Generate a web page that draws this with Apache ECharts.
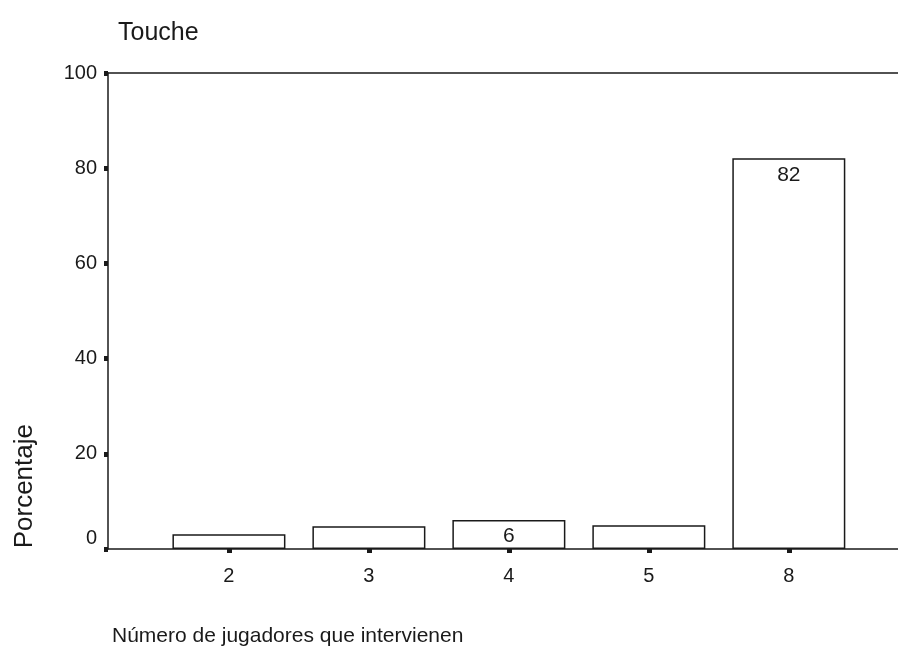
<!DOCTYPE html>
<html>
<head>
<meta charset="utf-8">
<script src="https://cdn.jsdelivr.net/npm/echarts@6/dist/echarts.min.js"></script>
<style>
html, body { margin: 0; padding: 0; background: #fff; }
#chart { width: 898px; height: 653px; }
</style>
</head>
<body>
<div id="chart"></div>
<script>
// categories on the x axis and percentages
const categories = ['2', '3', '4', '5', '8'];
const percents = [3.1, 4.8, 6.1, 5.0, 82.1];
const labelTexts = ['', '', '6', '', '82'];
const yTicks = [0, 20, 40, 60, 80, 100];

const ink = '#1a1a1a';
const font = 'Liberation Sans, Arial, sans-serif';

let myChart = echarts.init(document.getElementById('chart'));
let option = {
    backgroundColor: '#fff',
    animation: false,
    title: {
        text: 'Touche',
        left: 113,
        top: 16,
        textStyle: { fontFamily: font, fontWeight: 'normal', fontSize: 25, color: ink }
    },
    grid: { left: 108, right: 0, top: 73, bottom: 104 },
    xAxis: [{
        type: 'value',
        min: -0.864,
        max: 4.78,
        splitLine: { show: false },
        axisLine: { lineStyle: { color: ink, width: 1.5 } },
        axisTick: {
            customValues: [0, 1, 2, 3, 4],
            length: 4,
            lineStyle: { color: ink, width: 5 }
        },
        axisLabel: {
            customValues: [0, 1, 2, 3, 4],
            margin: 17,
            fontFamily: font,
            fontSize: 20,
            color: ink,
            formatter: function (v) { return categories[Math.round(v)]; }
        }
    }, {
        type: 'value',
        position: 'top',
        min: -0.864,
        max: 4.78,
        splitLine: { show: false },
        axisLine: { show: true, lineStyle: { color: ink, width: 1.5 } },
        axisTick: { show: false },
        axisLabel: { show: false }
    }],
    yAxis: {
        type: 'value',
        min: 0,
        max: 100,
        interval: 20,
        splitLine: { show: false },
        axisLine: { show: true, onZero: false, lineStyle: { color: ink, width: 1.5 } },
        axisTick: { length: 4, lineStyle: { color: ink, width: 5 } },
        axisLabel: {
            margin: 11,
            fontFamily: font,
            fontSize: 20,
            color: ink,
            formatter: function (v) {
                if (yTicks.indexOf(v) < 0) return '';
                return v === 0 ? '{low|0}' : String(v);
            },
            rich: {
                low: { fontFamily: font, fontSize: 20, color: ink, padding: [0, 0, 22, 0] }
            }
        }
    },
    graphic: [{
        type: 'text',
        left: 12,
        top: 424,
        style: {
            text: 'Porcentaje',
            font: '26px ' + font,
            fill: ink
        },
        rotation: Math.PI / 2,
        originX: 0,
        originY: 0
    }, {
        type: 'text',
        left: 112,
        top: 626,
        style: {
            text: 'Número de jugadores que intervienen',
            font: '21px ' + font,
            fill: ink
        }
    }],
    series: [{
        type: 'bar',
        xAxisIndex: 0,
        barWidth: 113,
        data: percents.map(function (v, i) {
            return {
                value: [i, v],
                label: { show: labelTexts[i] !== '', formatter: labelTexts[i] }
            };
        }),
        itemStyle: { color: '#fff', borderColor: ink, borderWidth: 1.5 },
        label: {
            position: 'insideTop',
            distance: 6,
            fontFamily: font,
            fontSize: 21,
            color: ink
        }
    }]
};
myChart.setOption(option);
</script>
</body>
</html>
